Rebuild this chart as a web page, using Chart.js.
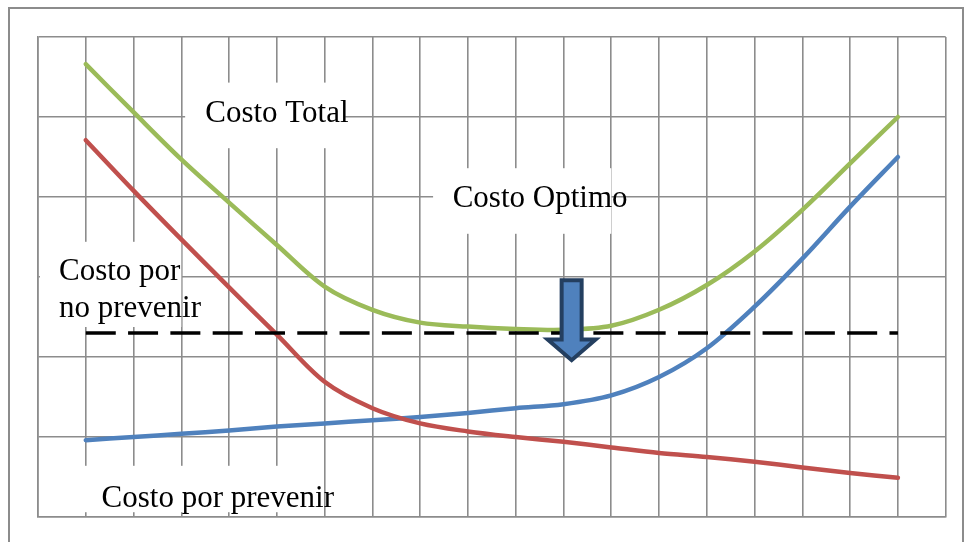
<!DOCTYPE html>
<html lang="es">
<head>
<meta charset="utf-8">
<title>Costo Optimo</title>
<script src="https://cdn.jsdelivr.net/npm/chart.js@4.4.1/dist/chart.umd.min.js"></script>
<style>
  html, body { margin: 0; padding: 0; background: #fff; overflow: hidden; }
  #marco {
    position: absolute; left: 8px; top: 7px; width: 956px; height: 620px;
    border: 2px solid #8c8c8c; box-sizing: border-box;
  }
  #c { position: absolute; left: 0; top: 0; }
</style>
</head>
<body>
<div id="marco"></div>
<canvas id="c" width="966" height="542"></canvas>
<script>
// Nivel de prevención (posiciones del eje horizontal)
const niveles = [1, 2, 3, 4, 5, 6, 7, 8, 9, 10, 11, 12, 13, 14, 15, 16, 17, 18];

// Series de costo
const costoTotal      = [5.66, 5.06, 4.47, 3.93, 3.40, 2.88, 2.59, 2.43, 2.38, 2.35, 2.34, 2.39, 2.59, 2.90, 3.32, 3.84, 4.42, 5.00];
const costoNoPrevenir = [4.71, 4.08, 3.47, 2.87, 2.28, 1.69, 1.36, 1.17, 1.07, 1.00, 0.94, 0.87, 0.80, 0.75, 0.69, 0.62, 0.55, 0.49];
const costoPrevenir   = [0.96, 1.00, 1.04, 1.08, 1.13, 1.17, 1.21, 1.25, 1.30, 1.36, 1.41, 1.52, 1.75, 2.11, 2.63, 3.23, 3.88, 4.50];

// Nivel del costo óptimo (línea discontinua) y punto señalado por la flecha
const nivelOptimo = 2.3;
const puntoOptimo = 11.17;

// Rangos de los ejes
const ejeX = { min: 0, max: 19 };
const ejeY = { min: 0, max: 6 };

// Textos de las etiquetas
const textos = [
  ['Costo Total'],
  ['Costo Optimo'],
  ['Costo por', 'no prevenir'],
  ['Costo por prevenir']
];

// Ubicación de cada etiqueta en unidades de los ejes: recuadro blanco y texto
const ubicaciones = [
  { caja: [3.08, 5.43, 6.43, 4.61], tx: 3.50, ty: [4.94] },
  { caja: [8.27, 4.36, 12.0, 3.54], tx: 8.68, ty: [3.87] },
  { caja: [0.04, 3.44, 3.00, 2.375], tx: 0.44, ty: [2.96, 2.50] },
  { caja: [0.50, 0.64, 5.48, 0.06], tx: 1.33, ty: [0.13] }
];

const pares = (serie) => niveles.map((n, i) => ({ x: n, y: serie[i] }));

const etiquetasPlugin = {
  id: 'etiquetas',
  beforeDatasetsDraw(chart) {
    const { ctx, scales: { x, y } } = chart;
    ctx.save();
    ubicaciones.forEach((u, i) => {
      const x0 = x.getPixelForValue(u.caja[0]);
      const y0 = y.getPixelForValue(u.caja[1]);
      const x1 = x.getPixelForValue(u.caja[2]);
      const y1 = y.getPixelForValue(u.caja[3]);
      ctx.fillStyle = '#ffffff';
      ctx.fillRect(x0, y0, x1 - x0, y1 - y0);
      ctx.fillStyle = '#000000';
      ctx.font = '31px "Liberation Serif", "Times New Roman", serif';
      ctx.textAlign = 'left';
      ctx.textBaseline = 'alphabetic';
      textos[i].forEach((linea, j) => {
        ctx.fillText(linea, x.getPixelForValue(u.tx), y.getPixelForValue(u.ty[j]));
      });
    });
    ctx.restore();
  },
  afterDatasetsDraw(chart) {
    // Flecha hacia abajo que señala el costo óptimo
    const { ctx, scales: { x, y } } = chart;
    const cx = x.getPixelForValue(puntoOptimo);
    const top = y.getPixelForValue(2.96);
    const cuello = y.getPixelForValue(2.22);
    const punta = y.getPixelForValue(1.96);
    const a = 10, b = 24;
    ctx.save();
    ctx.beginPath();
    ctx.moveTo(cx - a, top);
    ctx.lineTo(cx + a, top);
    ctx.lineTo(cx + a, cuello);
    ctx.lineTo(cx + b, cuello);
    ctx.lineTo(cx, punta);
    ctx.lineTo(cx - b, cuello);
    ctx.lineTo(cx - a, cuello);
    ctx.closePath();
    ctx.fillStyle = '#4f81bd';
    ctx.fill();
    ctx.lineWidth = 4;
    ctx.lineJoin = 'miter';
    ctx.strokeStyle = '#243f60';
    ctx.stroke();
    ctx.restore();
  }
};

const estiloLinea = (color, orden) => ({
  borderColor: color,
  backgroundColor: color,
  borderWidth: 4.5,
  borderCapStyle: 'round',
  borderJoinStyle: 'round',
  pointRadius: 0,
  tension: 0.33,
  fill: false,
  order: orden
});

new Chart(document.getElementById('c'), {
  type: 'line',
  data: {
    datasets: [
      { label: 'Costo por prevenir', data: pares(costoPrevenir), ...estiloLinea('#4f81bd', 4) },
      { label: 'Costo por no prevenir', data: pares(costoNoPrevenir), ...estiloLinea('#c0504d', 3) },
      { label: 'Costo Total', data: pares(costoTotal), ...estiloLinea('#9bbb59', 2) },
      {
        label: 'Costo Optimo',
        data: [{ x: niveles[0], y: nivelOptimo }, { x: niveles[niveles.length - 1], y: nivelOptimo }],
        borderColor: '#000000',
        borderWidth: 3.5,
        borderDash: [30, 12.3],
        borderCapStyle: 'butt',
        pointRadius: 0,
        tension: 0,
        order: 1
      }
    ]
  },
  options: {
    responsive: false,
    devicePixelRatio: 1,
    animation: false,
    events: [],
    layout: { padding: { left: 38, top: 37, right: 20.3, bottom: 25 } },
    plugins: { legend: { display: false }, tooltip: { enabled: false } },
    scales: {
      x: {
        type: 'linear',
        min: ejeX.min, max: ejeX.max,
        ticks: { display: false, stepSize: 1 },
        grid: { color: '#8c8c8c', lineWidth: 1.6, drawTicks: false },
        border: { color: '#8c8c8c', width: 1.6 }
      },
      y: {
        type: 'linear',
        min: ejeY.min, max: ejeY.max,
        ticks: { display: false, stepSize: 1 },
        grid: { color: '#8c8c8c', lineWidth: 1.6, drawTicks: false },
        border: { color: '#8c8c8c', width: 1.6 }
      }
    }
  },
  plugins: [etiquetasPlugin]
});
</script>
</body>
</html>
